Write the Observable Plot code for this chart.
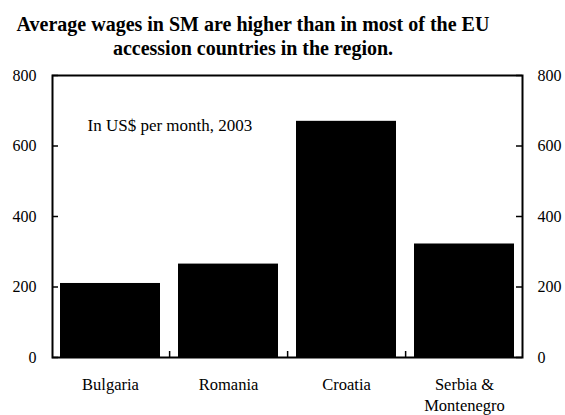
<!DOCTYPE html>
<html>
<head>
<meta charset="utf-8">
<script src="https://cdn.jsdelivr.net/npm/d3@7"></script>
<script src="https://cdn.jsdelivr.net/npm/@observablehq/plot@0.6"></script>
<style>
  html, body { margin: 0; padding: 0; background: #fff; }
  #chart { width: 565px; height: 415px; font-family: 'Liberation Serif', 'Times New Roman', serif; }
  #title { box-sizing: border-box; width: 506px; height: 62px; padding-top: 12px; text-align: center;
           font-weight: bold; font-size: 20px; line-height: 24px; color: #000; }
  #chart svg { display: block; font-family: 'Liberation Serif', 'Times New Roman', serif !important; }
  #chart svg text { font-family: 'Liberation Serif', 'Times New Roman', serif !important; }
</style>
</head>
<body>
<div id="chart">
  <div id="title">Average wages in SM are higher than in most of the EU<br>accession countries in the region.</div>
</div>
<script>
const categories = ["Bulgaria", "Romania", "Croatia", "Serbia &\nMontenegro"];
const wages = [210, 265, 670, 322];
const yTicks = [0, 200, 400, 600, 800];
const note = "In US$ per month, 2003";

const data = categories.map((c, i) => ({category: c, wage: wages[i]}));
const W = 565, H = 353;
const mL = 52, mR = 43, mT = 13, mB = 58;
const frameW = W - mL - mR;
const pInner = 0.155, pOuter = 0.065;
const step = frameW / (categories.length - pInner + 2 * pOuter);
const serif = "Liberation Serif, Times New Roman, serif";

const chart = Plot.plot({
  width: W,
  height: H,
  marginLeft: mL,
  marginRight: mR,
  marginTop: mT,
  marginBottom: mB,
  style: {fontSize: "16px", color: "#000", background: "#fff"},
  x: {domain: categories, paddingInner: pInner, paddingOuter: pOuter},
  y: {domain: [0, 800]},
  marks: [
    Plot.barY(data, {x: "category", y: "wage", fill: "#000"}),
    Plot.axisY(yTicks, {anchor: "left", tickSize: 0, tickPadding: 16, label: null, fontSize: 16, fontFamily: serif}),
    Plot.axisY(yTicks, {anchor: "right", tickSize: 0, tickPadding: 15, label: null, fontSize: 16, fontFamily: serif}),
    Plot.tickY(yTicks, {y: d => d, insetRight: frameW - 6, stroke: "#000", strokeWidth: 1.5}),
    Plot.tickY(yTicks, {y: d => d, insetLeft: frameW - 6, stroke: "#000", strokeWidth: 1.5}),
    Plot.axisX(categories, {tickSize: 0, tickPadding: 18, label: null, fontSize: 16.5, lineHeight: 1.25, fontFamily: serif}),
    Plot.ruleX(categories.slice(0, -1), {x: d => d, dx: step / 2, y1: 0, y2: 17, stroke: "#000", strokeWidth: 1.5}),
    Plot.frame({stroke: "#000", strokeWidth: 2}),
    Plot.text([note], {text: d => d, frameAnchor: "top-left", dx: 35, dy: 50, textAnchor: "start", lineAnchor: "middle", fontSize: 17, fontFamily: serif, fill: "#000"})
  ]
});
document.getElementById("chart").appendChild(chart);
</script>
</body>
</html>
